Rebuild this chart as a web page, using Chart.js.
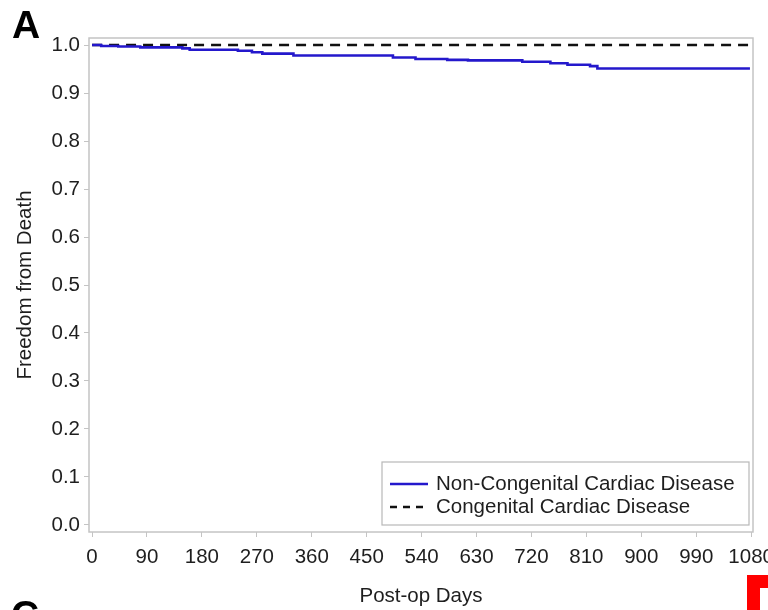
<!DOCTYPE html>
<html>
<head>
<meta charset="utf-8">
<script src="https://cdn.jsdelivr.net/npm/chart.js@4.4.1/dist/chart.umd.min.js"></script>
<style>
  html, body { margin: 0; padding: 0; background: #fff; }
  #wrap { width: 768px; height: 610px; }
</style>
</head>
<body>
<div id="wrap"><canvas id="km" width="768" height="610"></canvas></div>
<script>
'use strict';

// Kaplan-Meier steps (days, freedom from death)
const nonCongenitalDays = [0, 15, 43, 79, 148, 160, 239, 262, 279, 330, 493, 530, 582, 616, 705, 751, 779, 816, 828, 1078];
const nonCongenitalSurv = [1.0, 0.998, 0.997, 0.995, 0.993, 0.990, 0.988, 0.985, 0.982, 0.978, 0.974, 0.971, 0.969, 0.968, 0.965, 0.962, 0.959, 0.956, 0.951, 0.951];
const congenitalDays = [0, 1080];
const congenitalSurv = [1.0, 1.0];

const xTickValues = [0, 90, 180, 270, 360, 450, 540, 630, 720, 810, 900, 990, 1080];
const yTickValues = [0.0, 0.1, 0.2, 0.3, 0.4, 0.5, 0.6, 0.7, 0.8, 0.9, 1.0];

const legendLabels = ['Non-Congenital Cardiac Disease', 'Congenital Cardiac Disease'];

const FONT = "'Liberation Sans', Arial, sans-serif";
const FRAME = '#c4c4c4';
const TEXT = '#1e1e1e';
const BLUE = '#2418cc';

function toPoints(xs, ys) {
  return xs.map((x, i) => ({ x: x, y: ys[i] }));
}

// white page, plot frame, inline legend and the panel letters
const panelDecor = {
  id: 'panelDecor',
  beforeDraw(chart) {
    const ctx = chart.ctx;
    ctx.save();
    ctx.fillStyle = '#fff';
    ctx.fillRect(0, 0, chart.width, chart.height);
    ctx.restore();
  },
  afterDraw(chart) {
    const ctx = chart.ctx;
    const a = chart.chartArea;
    ctx.save();
    ctx.strokeStyle = FRAME;
    ctx.lineWidth = 1.5;
    ctx.strokeRect(a.left, a.top, a.right - a.left, a.bottom - a.top);

    // legend box
    const lx = 382, ly = 462, lw = 367, lh = 63;
    ctx.lineWidth = 1.2;
    ctx.strokeStyle = '#b8b8b8';
    ctx.strokeRect(lx, ly, lw, lh);
    const rows = [484, 507];
    ctx.lineWidth = 2.5;
    ctx.strokeStyle = BLUE;
    ctx.beginPath();
    ctx.moveTo(390, rows[0]);
    ctx.lineTo(428, rows[0]);
    ctx.stroke();
    ctx.strokeStyle = '#111';
    ctx.setLineDash([7, 6]);
    ctx.beginPath();
    ctx.moveTo(390, rows[1]);
    ctx.lineTo(428, rows[1]);
    ctx.stroke();
    ctx.setLineDash([]);
    ctx.fillStyle = TEXT;
    ctx.font = '20.5px ' + FONT;
    ctx.textBaseline = 'middle';
    ctx.textAlign = 'left';
    legendLabels.forEach((t, i) => ctx.fillText(t, 436, rows[i]));

    // panel letters from the source figure
    ctx.fillStyle = '#000';
    ctx.font = 'bold 39px ' + FONT;
    ctx.textBaseline = 'alphabetic';
    ctx.fillText('A', 12, 38);
    ctx.fillText('C', 11, 628);

    // corner of the next panel's red marker
    ctx.fillStyle = '#ff0000';
    ctx.fillRect(747, 575, 21, 35);
    ctx.fillStyle = '#fff';
    ctx.fillRect(760, 588, 8, 22);
    ctx.restore();
  }
};

const ctx = document.getElementById('km').getContext('2d');

new Chart(ctx, {
  type: 'line',
  data: {
    datasets: [
      {
        label: legendLabels[0],
        data: toPoints(nonCongenitalDays, nonCongenitalSurv),
        borderColor: BLUE,
        borderWidth: 2.6,
        stepped: true,
        pointRadius: 0,
        fill: false,
      },
      {
        label: legendLabels[1],
        data: toPoints(congenitalDays, congenitalSurv),
        borderColor: '#111',
        borderWidth: 2.6,
        borderDash: [10, 7],
        pointRadius: 0,
        fill: false,
      }
    ]
  },
  options: {
    responsive: false,
    animation: false,
    layout: {
      padding: { top: 38, right: 15, left: 0, bottom: 0 }
    },
    plugins: {
      legend: { display: false },
      tooltip: { enabled: false },
    },
    scales: {
      x: {
        type: 'linear',
        min: -5,
        max: 1083,
        afterBuildTicks: (scale) => {
          scale.ticks = xTickValues.map(v => ({ value: v }));
        },
        afterFit: (scale) => {
          scale.height = 78;
          scale.paddingLeft = 0;
          scale.paddingRight = 0;
        },
        ticks: {
          color: TEXT,
          padding: 8,
          maxRotation: 0,
          autoSkip: false,
          font: { family: FONT, size: 20.5 },
          callback: (v) => String(v),
        },
        grid: {
          drawOnChartArea: false,
          drawTicks: true,
          tickLength: 5,
          tickColor: FRAME,
          color: FRAME,
        },
        border: { display: false },
        title: {
          display: true,
          text: 'Post-op Days',
          color: TEXT,
          font: { family: FONT, size: 20.5 },
          padding: { top: 0, bottom: 1 },
        },
      },
      y: {
        min: -0.0146,
        max: 1.0146,
        afterBuildTicks: (scale) => {
          scale.ticks = yTickValues.map(v => ({ value: v }));
        },
        afterFit: (scale) => {
          scale.width = 89;
        },
        ticks: {
          color: TEXT,
          padding: 4,
          font: { family: FONT, size: 20.5 },
          callback: (v) => Number(v).toFixed(1),
        },
        grid: {
          drawOnChartArea: false,
          drawTicks: true,
          tickLength: 5,
          tickColor: FRAME,
          color: FRAME,
        },
        border: { display: false },
        title: {
          display: true,
          text: 'Freedom from Death',
          color: TEXT,
          font: { family: FONT, size: 20.5 },
          padding: { top: 13, bottom: 0 },
        },
      }
    }
  },
  plugins: [panelDecor]
});
</script>
</body>
</html>
